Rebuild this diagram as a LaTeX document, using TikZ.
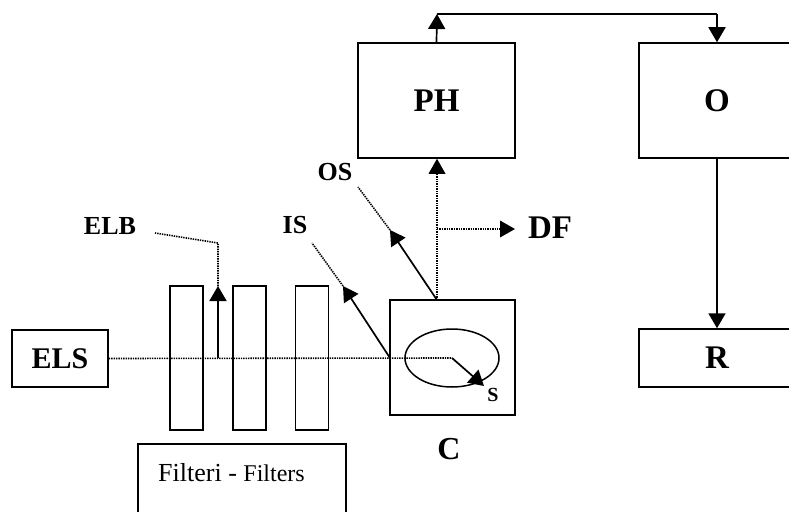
\documentclass[tikz,border=0pt]{standalone}
\usepackage{xcolor}
\usepackage{fontspec}
\setmainfont{Liberation Serif}
\usetikzlibrary{arrows.meta,shapes.geometric}
\tikzset{
    blockbox/.style={draw,line width=1.5pt,rectangle,inner sep=0pt,font=\bfseries\fontsize{33}{36}\selectfont},
    beam/.style={line width=1.6pt,dash pattern=on 1.4pt off 1pt},
    ray/.style={line width=1.7pt,-{Triangle[length=15pt,width=17pt]}},
    beamtip/.style={beam,-{Triangle[length=15pt,width=17pt,line width=0pt]}},
    tag/.style={inner sep=0pt,font=\bfseries\fontsize{26}{28}\selectfont}
}
\begin{document}
\begin{tikzpicture}[x=1pt,y=-1pt]
    \useasboundingbox (0,0) rectangle (789,511);
    \node[blockbox,minimum width=96pt,minimum height=57pt,font=\bfseries\fontsize{30}{32}\selectfont] (els) at (60,358.5) {ELS};
    \node[blockbox,minimum width=33pt,minimum height=144pt] (filterA) at (186.5,358) {};
    \node[blockbox,minimum width=33pt,minimum height=144pt] (filterB) at (249.5,358) {};
    \node[blockbox,minimum width=33pt,minimum height=144pt] (filterC) at (312,358) {};
    \node[blockbox,minimum width=125pt,minimum height=115pt] (cell) at (452.5,357.5) {};
    \node[draw,line width=1.5pt,ellipse,minimum width=94pt,minimum height=58pt,inner sep=0pt] (sample) at (452,358) {};
    \node[blockbox,minimum width=157pt,minimum height=115pt] (ph) at (436.5,100.5) {PH};
    \node[blockbox,minimum width=156pt,minimum height=115pt] (o) at (717,100.5) {O};
    \node[blockbox,minimum width=156pt,minimum height=58pt] (r) at (717,358) {R};
    \node[draw,line width=1.8pt,minimum width=208pt,minimum height=75pt,inner sep=0pt] (filterbox) at (242,481.5) {};
    \node[inner sep=0pt,anchor=base west] (filterlabel) at (158,481.5) {\fontsize{26}{28}\selectfont Filteri - \fontsize{24}{28}\selectfont Filters};

    \node[tag] (elb) at (110,226) {ELB};
    \node[tag] (is) at (295,225) {IS};
    \node[tag] (os) at (335,172) {OS};
    \node[tag,font=\bfseries\fontsize{33}{36}\selectfont] (df) at (550,228) {DF};
    \node[tag,font=\bfseries\fontsize{20}{22}\selectfont] (s) at (493,395) {S};
    \node[tag,font=\bfseries\fontsize{32}{34}\selectfont] (c) at (449,449) {C};

    \coordinate (elbroot) at (218,358);
    \coordinate (elbtip) at (218,286);
    \coordinate (elbbend) at (218,243);
    \coordinate (elbend) at (155,233);
    \coordinate (isroot) at (390,358);
    \coordinate (istip) at (343,286);
    \coordinate (isend) at (312,243);
    \coordinate (osroot) at (437,300);
    \coordinate (ostip) at (390,230);
    \coordinate (osend) at (358,187);
    \coordinate (dfroot) at (437,229);
    \coordinate (dftip) at (515,229);
    \coordinate (sctr) at (452,358);
    \coordinate (stip) at (484,386);
    \coordinate (phtop) at (437,14);
    \coordinate (otop) at (717,14);

    \draw[beam] (els.east) -- (sctr);
    \draw[ray] (elbroot) -- (elbtip);
    \draw[beam] (elbtip) -- (elbbend) -- (elbend);
    \draw[ray] (isroot) -- (istip);
    \draw[beam] (istip) -- (isend);
    \draw[ray] (osroot) -- (ostip);
    \draw[beam] (ostip) -- (osend);
    \draw[beamtip] (osroot) -- (osroot |- ph.south);
    \draw[beamtip] (dfroot) -- (dftip);
    \draw[ray] (sctr) -- (stip);
    \draw[ray] (ph.north) -- (phtop);
    \draw[line width=1.5pt] (phtop) -- (otop);
    \draw[ray] (otop) -- (o.north);
    \draw[ray] (o.south) -- (r.north);
\end{tikzpicture}
\end{document}
